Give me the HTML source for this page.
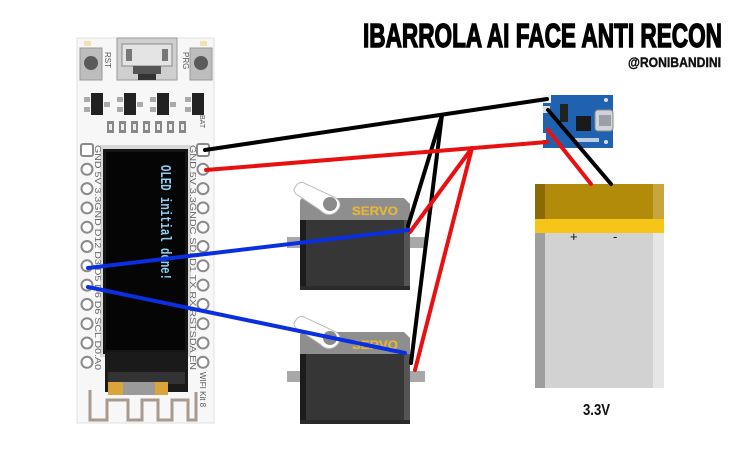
<!DOCTYPE html>
<html><head><meta charset="utf-8"><style>
html,body{margin:0;padding:0;background:#fff;}
svg{display:block;}
</style></head><body>
<svg width="740" height="450" viewBox="0 0 740 450" xmlns="http://www.w3.org/2000/svg" font-family="Liberation Sans, sans-serif">
<rect width="740" height="450" fill="#fff"/>

<!-- ===== BOARD ===== -->
<rect x="77" y="38" width="137" height="385" fill="#f7f7f7" stroke="#e0e0e0" stroke-width="1"/>
<!-- USB -->
<rect x="117" y="38" width="60" height="42" fill="#cfcfcf" stroke="#9a9a9a"/>
<rect x="122" y="44" width="50" height="22" fill="#e4e4e4" stroke="#888"/>
<rect x="126" y="49" width="6" height="12" fill="#777"/>
<rect x="162" y="49" width="6" height="12" fill="#777"/>
<rect x="133" y="66" width="28" height="8" fill="#555"/>
<rect x="138" y="74" width="18" height="6" fill="#333"/>
<!-- buttons -->
<rect x="80" y="48" width="22" height="32" fill="#bdbdbd" stroke="#999"/>
<circle cx="91" cy="63" r="7" fill="#5a5a5a"/>
<rect x="190" y="48" width="22" height="32" fill="#bdbdbd" stroke="#999"/>
<circle cx="201" cy="63" r="7" fill="#5a5a5a"/>
<rect x="84" y="41" width="7" height="5" fill="#f2e2b0"/>
<rect x="200" y="41" width="7" height="5" fill="#f2e2b0"/>
<text transform="translate(105,52) rotate(90)" font-size="8" fill="#555">RST</text>
<text transform="translate(183,52) rotate(90)" font-size="8" fill="#555">PRG</text>
<!-- transistors -->
<g fill="#222">
<rect x="91" y="93" width="12" height="22"/>
<rect x="124" y="93" width="12" height="22"/>
<rect x="157" y="93" width="12" height="22"/>
<rect x="192" y="93" width="12" height="22"/>
</g>
<g fill="#aaa">
<rect x="84" y="97" width="6" height="5"/><rect x="84" y="107" width="6" height="5"/>
<rect x="104" y="102" width="6" height="5"/>
<rect x="117" y="97" width="6" height="5"/><rect x="117" y="107" width="6" height="5"/>
<rect x="137" y="102" width="6" height="5"/>
<rect x="150" y="97" width="6" height="5"/><rect x="150" y="107" width="6" height="5"/>
<rect x="170" y="102" width="6" height="5"/>
<rect x="185" y="97" width="6" height="5"/><rect x="185" y="107" width="6" height="5"/>
</g>
<!-- resistors -->
<g fill="#888">
<rect x="107" y="121" width="7" height="12"/>
<rect x="119" y="121" width="7" height="12"/>
<rect x="131" y="121" width="7" height="12"/>
<rect x="143" y="121" width="7" height="12"/>
<rect x="155" y="121" width="7" height="12"/>
<rect x="167" y="121" width="7" height="12"/>
<rect x="179" y="121" width="7" height="12"/>
</g>
<g fill="#eee">
<rect x="109" y="124" width="3" height="6"/><rect x="121" y="124" width="3" height="6"/><rect x="133" y="124" width="3" height="6"/><rect x="145" y="124" width="3" height="6"/><rect x="157" y="124" width="3" height="6"/><rect x="169" y="124" width="3" height="6"/><rect x="181" y="124" width="3" height="6"/>
</g>
<text transform="translate(200,115) rotate(90)" font-size="7" fill="#555">BAT</text>

<!-- OLED -->
<rect x="100" y="145" width="91" height="212" fill="#d8d8d8"/>
<rect x="103" y="149" width="85" height="205" fill="#151515"/>
<rect x="106" y="152" width="79" height="198" fill="#050505"/>
<rect x="105" y="352" width="83" height="40" fill="#1a1a1a"/>
<rect x="108" y="372" width="77" height="12" fill="#333"/>
<rect x="108" y="382" width="60" height="13" fill="#d9a53a"/>
<rect x="123" y="382" width="32" height="13" fill="#9a9a9a"/>
<text transform="translate(161,165) rotate(90)" font-family="Liberation Mono, monospace" font-weight="bold" font-size="15" fill="#8fd0f5" textLength="115" lengthAdjust="spacingAndGlyphs">OLED initial done!</text>

<!-- pin holes -->
<g fill="#fff" stroke="#8a8a8a" stroke-width="2">
<rect x="81" y="144" width="12" height="12" rx="2"/>
<rect x="197" y="144" width="12" height="12" rx="2"/>
<circle cx="87" cy="169.3" r="5.5"/><circle cx="203" cy="169.3" r="5.5"/>
<circle cx="87" cy="188.6" r="5.5"/><circle cx="203" cy="188.6" r="5.5"/>
<circle cx="87" cy="207.9" r="5.5"/><circle cx="203" cy="207.9" r="5.5"/>
<circle cx="87" cy="227.2" r="5.5"/><circle cx="203" cy="227.2" r="5.5"/>
<circle cx="87" cy="246.5" r="5.5"/><circle cx="203" cy="246.5" r="5.5"/>
<circle cx="87" cy="265.8" r="5.5"/><circle cx="203" cy="265.8" r="5.5"/>
<circle cx="87" cy="285.1" r="5.5"/><circle cx="203" cy="285.1" r="5.5"/>
<circle cx="87" cy="304.4" r="5.5"/><circle cx="203" cy="304.4" r="5.5"/>
<circle cx="87" cy="323.7" r="5.5"/><circle cx="203" cy="323.7" r="5.5"/>
<circle cx="87" cy="343" r="5.5"/><circle cx="203" cy="343" r="5.5"/>
<circle cx="87" cy="362.3" r="5.5"/><circle cx="203" cy="362.3" r="5.5"/>
</g>
<text transform="translate(95,145) rotate(90)" font-size="8" fill="#666" textLength="225" lengthAdjust="spacingAndGlyphs">GND 5V 3.3GND D12 D3 D5 D6 D6 SCL D0.A0</text>
<text transform="translate(190,145) rotate(90)" font-size="8" fill="#666" textLength="225" lengthAdjust="spacingAndGlyphs">GND 5V 3.3GNDC SDI D1 TX RX RSTSDA EN</text>
<text transform="translate(200,372) rotate(90)" font-size="8" fill="#555">WIFI Kit 8</text>
<!-- antenna -->
<path d="M90,390 V420 H107 V400 H128 V420 H142 V400 H158 V420 H172 V400 H188 V420 H196 V392" fill="none" stroke="#a89a8c" stroke-width="3"/>

<!-- ===== SERVOS ===== -->
<g id="servo1">
<rect x="287" y="237" width="16" height="11" fill="#a8a8a8"/>
<rect x="405" y="237" width="20" height="11" fill="#a8a8a8"/>
<path d="M300,202 Q300,198 304,198 H404 L410,204 V222 H300 Z" fill="#8e8e8e"/>
<rect x="300" y="220" width="108" height="70" fill="#363636"/>
<rect x="300" y="220" width="6" height="70" fill="#1c1c1c"/>
<rect x="404" y="220" width="6" height="70" fill="#555"/>
<rect x="300" y="286" width="110" height="4" fill="#2a2a2a"/>
<path d="M296,186 Q300,180 306,184 L336,198 Q344,204 336,212 Q328,218 320,210 L296,194 Q292,190 296,186 Z" fill="#fff" stroke="#bbb" stroke-width="1"/>
<circle cx="330" cy="204" r="7" fill="#8a8a8a"/>
<text x="352" y="215" font-size="11.5" font-weight="bold" fill="#e3b53a" stroke="#e3b53a" stroke-width="0.3" textLength="46" lengthAdjust="spacingAndGlyphs">SERVO</text>
</g>
<use href="#servo1" transform="translate(0,134)"/>

<!-- ===== BATTERY ===== -->
<rect x="535" y="184" width="129" height="204" fill="#d2d2d2" rx="2"/>
<rect x="535" y="184" width="129" height="35" fill="#b38b0a"/>
<rect x="535" y="184" width="10" height="35" fill="#8a6a05"/>
<rect x="653" y="184" width="11" height="35" fill="#c9a63d"/>
<rect x="535" y="219" width="129" height="14" fill="#f5c518"/>
<rect x="535" y="233" width="10" height="155" fill="#9e9e9e"/>
<rect x="653" y="233" width="11" height="155" fill="#e6e6e6"/>
<text x="570" y="241" font-size="13" fill="#111">+</text>
<text x="613" y="241" font-size="13" fill="#111">-</text>
<text x="583" y="415" font-size="16" font-weight="bold" fill="#111" textLength="27" lengthAdjust="spacingAndGlyphs">3.3V</text>

<!-- ===== CHARGER ===== -->
<path d="M543,95 H613 V148 H543 V140 H546 V133 H543 Z" fill="#1f63b0"/>
<rect x="543" y="95" width="8" height="8" fill="#eee"/>
<rect x="543" y="106" width="7" height="7" fill="#ddd"/>
<rect x="576" y="116" width="15" height="15" fill="#1a1a1a"/>
<rect x="560" y="104" width="8" height="18" fill="#222"/>
<rect x="595" y="110" width="18" height="21" rx="3" fill="#cfd4d8" stroke="#888"/>
<rect x="599" y="115" width="12" height="11" fill="#9aa0a6"/>
<circle cx="606" cy="100" r="2" fill="#ddd"/>
<circle cx="606" cy="142" r="2" fill="#ddd"/>
<rect x="575" y="138" width="24" height="4" fill="#bcd"/>

<!-- ===== WIRES ===== -->
<g stroke-width="4" stroke-linecap="round" fill="none">
<line x1="205" y1="150" x2="547" y2="99" stroke="#000"/>
<line x1="442" y1="115" x2="408" y2="226" stroke="#000"/>
<line x1="442" y1="115" x2="411" y2="363" stroke="#000"/>
<line x1="548" y1="110" x2="611" y2="184" stroke="#000"/>
<line x1="206" y1="170" x2="547" y2="142" stroke="#e81010"/>
<line x1="472" y1="148" x2="410" y2="232" stroke="#e81010"/>
<line x1="472" y1="148" x2="415" y2="370" stroke="#e81010"/>
<line x1="548" y1="130" x2="591" y2="184" stroke="#e81010"/>
<line x1="88" y1="268" x2="408" y2="230" stroke="#0a2fe0"/>
<line x1="88" y1="287" x2="405" y2="353" stroke="#0a2fe0"/>
</g>

<!-- ===== TITLE ===== -->
<text x="363" y="47" font-size="33" font-weight="bold" fill="#000" stroke="#000" stroke-width="1.4" textLength="359" lengthAdjust="spacingAndGlyphs">IBARROLA AI FACE ANTI RECON</text>
<text x="628" y="67" font-size="13.5" font-weight="bold" fill="#111" stroke="#111" stroke-width="0.4" textLength="93" lengthAdjust="spacingAndGlyphs">@RONIBANDINI</text>
</svg>
</body></html>
